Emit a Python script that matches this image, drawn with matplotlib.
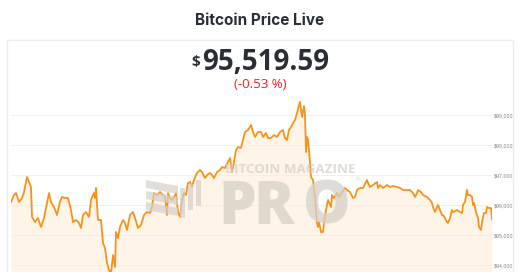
import matplotlib
matplotlib.use('Agg')
import matplotlib.pyplot as plt
from matplotlib.patches import Rectangle, Polygon

# minutes since start of the window
minutes = [
    0, 9, 15, 24, 33, 39, 48, 54, 60, 63,
    72, 81, 90, 99, 108, 114, 120, 129, 138, 147,
    153, 162, 171, 180, 186, 195, 204, 210, 216, 225,
    234, 240, 249, 252, 255, 261, 270, 276, 282, 288,
    294, 300, 306, 312, 315, 321, 327, 336, 342, 348,
    357, 366, 372, 381, 390, 399, 408, 417, 423, 429,
    438, 447, 456, 462, 468, 471, 477, 483, 489, 495,
    501, 507, 513, 519, 525, 531, 537, 543, 549, 558,
    567, 573, 582, 588, 597, 603, 609, 618, 627, 633,
    642, 651, 657, 663, 669, 675, 681, 690, 696, 702,
    711, 720, 726, 732, 741, 750, 756, 765, 771, 780,
    789, 798, 807, 816, 822, 828, 834, 840, 846, 852,
    858, 864, 867, 873, 879, 882, 885, 888, 891, 894,
    900, 906, 912, 918, 921, 924, 930, 936, 939, 945,
    951, 960, 963, 969, 978, 984, 993, 1002, 1008, 1017,
    1026, 1032, 1038, 1047, 1056, 1068, 1071, 1077, 1086, 1098,
    1101, 1107, 1116, 1128, 1137, 1146, 1158, 1167, 1176, 1188,
    1197, 1206, 1212, 1218, 1221, 1230, 1236, 1248, 1257, 1263,
    1266, 1272, 1278, 1281, 1287, 1293, 1296, 1302, 1308, 1311,
    1317, 1323, 1326, 1338, 1347, 1353, 1356, 1362, 1368, 1371,
    1377, 1383, 1386, 1389, 1395, 1401, 1404, 1410, 1413, 1419,
    1425, 1428, 1434, 1440, 1443,
]

prices = [
    96100, 96333, 96400, 96100, 96233, 96433, 96933, 96767, 96600, 95600,
    95433, 95567, 95267, 95567, 96067, 96400, 96100, 95933, 95667, 96100,
    96267, 96233, 96233, 95833, 95433, 95500, 95400, 95233, 95667, 95767,
    95600, 96167, 96400, 96233, 96567, 95500, 95500, 94733, 94567, 94067,
    93833, 93720, 94333, 93933, 95100, 94900, 95267, 95500, 95400, 95167,
    95667, 95767, 95567, 95233, 95333, 95667, 95767, 95733, 95933, 96400,
    96333, 96433, 96333, 96267, 95667, 96400, 96233, 96167, 96267, 96400,
    95767, 95600, 96167, 96400, 96333, 96733, 96767, 96600, 96833, 97067,
    97167, 97100, 96900, 97000, 97067, 97000, 96900, 97100, 97167, 97267,
    97233, 97433, 97567, 97100, 97433, 97833, 97933, 97900, 98167, 98433,
    98500, 98667, 98433, 98267, 98433, 98433, 98267, 98400, 98233, 98233,
    98333, 98267, 98433, 98500, 98233, 98167, 98500, 98600, 98733, 98833,
    99067, 99333, 99433, 98933, 99300, 99000, 97767, 98267, 98167, 97833,
    96933, 96833, 96267, 95400, 95267, 95433, 95100, 95100, 95400, 95833,
    96167, 95933, 96333, 96233, 96400, 96267, 96433, 96567, 96500, 96433,
    96233, 96267, 96500, 96567, 96567, 96833, 96733, 96600, 96667, 96767,
    96567, 96667, 96567, 96667, 96600, 96633, 96600, 96567, 96500, 96500,
    96500, 96400, 96267, 96400, 96500, 96433, 96333, 96267, 96167, 96067,
    95933, 95767, 95933, 96000, 95833, 95667, 95667, 95567, 95433, 95400,
    95567, 95833, 95767, 95833, 95767, 95733, 96000, 96100, 96500, 96333,
    96333, 96267, 96000, 96067, 95767, 95567, 95267, 95167, 95433, 95733,
    95733, 95933, 95900, 95900, 95520,
]

y_ticks = [94000, 95000, 96000, 97000, 98000, 99000]
title = 'Bitcoin Price Live'
price_text = '95,519.59'
change_text = '(-0.53 %)'

W, H = 520, 272
ORANGE = '#f7931a'
FILL = '#fef4e8'
WM = '#d6d0c9'


def fx(px):
    return px / W


def fy(py):
    return 1 - py / H


def watermark(fig):
    kw = dict(transform=fig.transFigure, facecolor=WM, alpha=0.7, lw=0, zorder=2)
    fig.text(fx(290), fy(173), 'BITCOIN MAGAZINE', ha='center', va='baseline',
             fontsize=9.6, fontweight='bold', family='Open Sans',
             color=WM, alpha=0.75, zorder=2)
    for ch, cx in [('P', 237), ('R', 274), ('O', 327)]:
        fig.text(fx(cx), fy(224), ch, ha='center', va='baseline',
                 fontsize=43, fontweight='heavy', family='Open Sans',
                 color=WM, alpha=0.75, zorder=2)
    fig.text(fx(357), fy(181), '\u00ae', ha='center', va='baseline',
             fontsize=4, color=WM, zorder=2)
    # logo: slanted bars + candles
    for yy in [180, 191, 202]:
        pts = [(146, yy), (178, yy + 6), (178, yy + 14), (146, yy + 8)]
        fig.patches.append(Polygon([(fx(a), fy(b)) for a, b in pts],
                                   closed=True, **kw))
    for xx, y0, y1 in [(180, 188, 218), (188, 184, 210), (196, 180, 206)]:
        fig.patches.append(Rectangle((fx(xx), fy(y1)), fx(5), (y1 - y0) / H, **kw))


def main():
    fig = plt.figure(figsize=(W / 100, H / 100), dpi=100)
    fig.patch.set_facecolor('white')

    # card border
    fig.patches.append(Rectangle((fx(7), fy(285)), fx(506), (285 - 40) / H,
                                 transform=fig.transFigure, fill=False,
                                 edgecolor='#ececec', lw=1.0, zorder=0))

    # plot area: x 11..492 px, y 40..272 px
    ax = fig.add_axes([fx(11), 0, fx(492 - 11), (272 - 40) / H])
    ax.set_facecolor('none')
    px_per_k = 30.0
    top = 99000 + (115 - 40) / px_per_k * 1000
    bottom = 99000 - (272 - 115) / px_per_k * 1000
    ax.set_ylim(bottom, top)
    ax.set_xlim(minutes[0], minutes[-1])

    ax.fill_between(minutes, prices, bottom, color=FILL, lw=0, zorder=1)
    ax.plot(minutes, prices, color=ORANGE, lw=1.3, zorder=4,
            solid_joinstyle='round')

    ax.set_yticks(y_ticks)
    ax.set_yticklabels([f'${v:,}' for v in y_ticks], family='Liberation Sans')
    ax.yaxis.tick_right()
    ax.tick_params(axis='y', length=0, pad=1.2, labelsize=3.8,
                   labelcolor='#8a8a8a')
    ax.set_xticks([])
    ax.grid(axis='y', color='#efefef', lw=0.7, zorder=0)
    for s in ax.spines.values():
        s.set_visible(False)

    watermark(fig)

    # header texts
    fig.text(fx(260), fy(25), title, ha='center', va='baseline',
             fontsize=11, fontweight='bold', family='Inter', color='#2a2f36')
    fig.text(fx(266), fy(70), price_text, ha='center', va='baseline',
             fontsize=20, fontweight='bold', family='Open Sans', color='#2a2f36')
    fig.text(fx(200), fy(66), '$', ha='right', va='baseline',
             fontsize=11, fontweight='bold', family='Open Sans', color='#2a2f36')
    fig.text(fx(260), fy(88), change_text, ha='center', va='baseline',
             fontsize=9.5, family='Open Sans', color='#ff1a1a')

    fig.savefig('out.png', dpi=100, facecolor='white')


if __name__ == '__main__':
    main()
